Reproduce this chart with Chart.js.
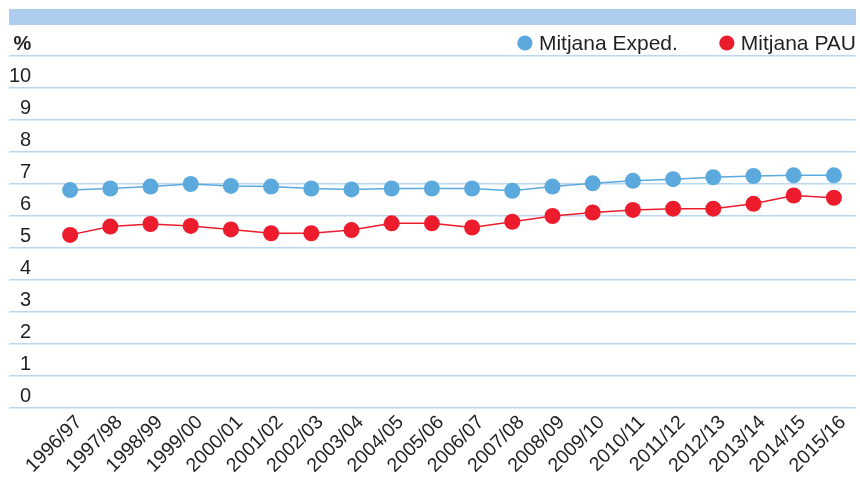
<!DOCTYPE html>
<html>
<head>
<meta charset="utf-8">
<script src="https://cdn.jsdelivr.net/npm/chart.js@4.4.1/dist/chart.umd.min.js"></script>
<style>
    html,body{margin:0;padding:0;background:#fff;overflow:hidden}
    #wrap{width:860px;height:481px;position:relative}
</style>
</head>
<body>
<div id="wrap"><canvas id="grafic"></canvas></div>
<script>
// dades llegides del grafic
const cursos = ['1996/97','1997/98','1998/99','1999/00','2000/01','2001/02','2002/03','2003/04','2004/05','2005/06',
                '2006/07','2007/08','2008/09','2009/10','2010/11','2011/12','2012/13','2013/14','2014/15','2015/16']
const mitjanaExped = [6.81,6.86,6.92,7.00,6.94,6.92,6.86,6.83,6.86,6.86,6.86,6.79,6.92,7.02,7.10,7.15,7.21,7.25,7.27,7.27]
const mitjanaPAU = [5.41,5.67,5.75,5.69,5.58,5.46,5.46,5.56,5.77,5.77,5.64,5.82,6.00,6.11,6.19,6.23,6.23,6.38,6.64,6.57]
const etiquetesY = ['0','1','2','3','4','5','6','7','8','9','10','%']

const FONT = '"Liberation Sans", Arial, Helvetica, sans-serif'
const TEXT = '#231f20'

window.addEventListener('load',()=>{
    const canvas = document.getElementById('grafic')

    // banda de dalt i llegenda a la dreta
    const decoracio = {
        id:'decoracio',
        afterDraw(chart){
            const ctx = chart.ctx
            const area = chart.chartArea
            ctx.save()
            ctx.fillStyle = '#accdeb'
            ctx.fillRect(area.left, 9, area.right - area.left, 16)

            ctx.font = '21px ' + FONT
            ctx.textBaseline = 'middle'
            ctx.textAlign = 'left'
            let x = area.right
            const y = 44
            const items = chart.data.datasets.slice().reverse()
            items.forEach((ds)=>{
                const w = ctx.measureText(ds.label).width
                x -= w
                ctx.fillStyle = TEXT
                ctx.fillText(ds.label, x, y)
                ctx.beginPath()
                ctx.arc(x - 14, y - 1, 7.6, 0, Math.PI*2)
                ctx.fillStyle = ds.backgroundColor
                ctx.fill()
                x -= 14 + 49
            })
            ctx.restore()
        }
    }

    const serie = (label, valors, color)=>({
        label:label,
        data:valors.map((v,i)=>({x:i,y:v})),
        borderColor:color,
        backgroundColor:color,
        borderWidth:1.5,
        pointRadius:8,
        pointHoverRadius:8,
        pointBorderWidth:0,
        tension:0
    })

    new Chart(canvas.getContext('2d'),{
        type:'line',
        data:{
            datasets:[
                serie('Mitjana Exped.', mitjanaExped, '#5ba9dd'),
                serie('Mitjana PAU', mitjanaPAU, '#ec1c2d')
            ]
        },
        options:{
            responsive:true,
            maintainAspectRatio:false,
            animation:false,
            events:[],
            layout:{autoPadding:false,padding:{top:56,left:9,right:4,bottom:0}},
            plugins:{legend:{display:false},tooltip:{enabled:false}},
            scales:{
                x:{
                    type:'linear',
                    min:-1.52,
                    max:19.55,
                    afterBuildTicks:(scale)=>{
                        scale.ticks = cursos.map((c,i)=>({value:i}))
                    },
                    afterFit:(scale)=>{
                        scale.height = 73
                        scale.paddingLeft = 0
                        scale.paddingRight = 0
                    },
                    grid:{display:false,drawTicks:false},
                    border:{display:false},
                    ticks:{
                        autoSkip:false,
                        minRotation:45,
                        maxRotation:45,
                        padding:3,
                        labelOffset:9,
                        color:TEXT,
                        font:{family:FONT,size:19.5},
                        callback:(v)=>cursos[v]
                    }
                },
                y:{
                    min:0,
                    max:11,
                    grid:{color:'#bcd7ef',lineWidth:1.5,drawTicks:false},
                    border:{display:false},
                    ticks:{
                        stepSize:1,
                        mirror:true,
                        crossAlign:'far',
                        padding:0,
                        labelOffset:-12,
                        color:TEXT,
                        font:(c)=>({family:FONT,size:20,weight:c.tick && c.tick.value===11?'bold':'normal'}),
                        callback:(v)=>etiquetesY[v]
                    }
                }
            }
        },
        plugins:[decoracio]
    })
})
</script>
</body>
</html>
